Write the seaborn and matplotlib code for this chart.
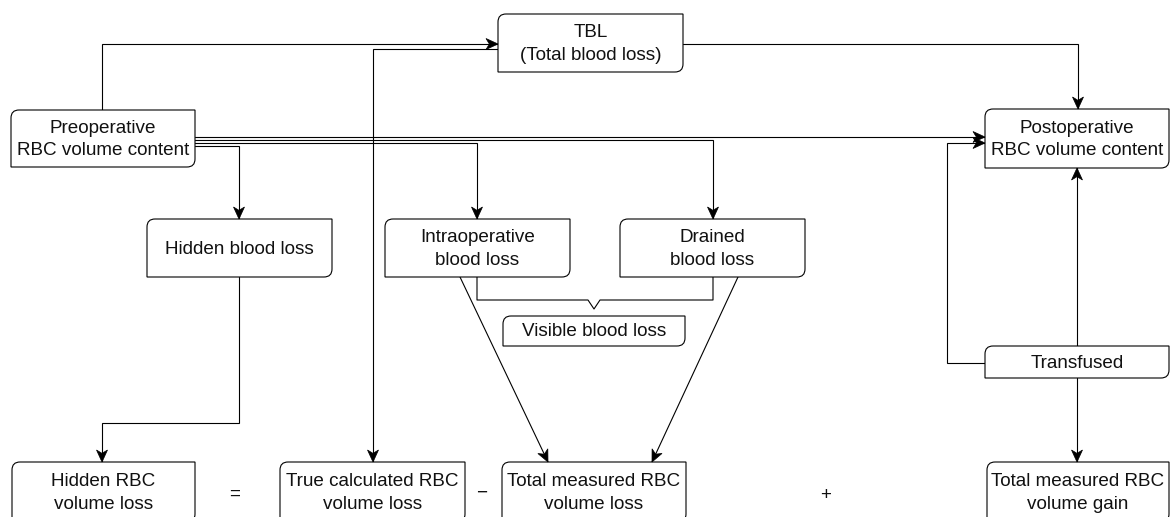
import matplotlib
matplotlib.use('Agg')
import matplotlib.pyplot as plt
import seaborn as sns
import numpy as np
from matplotlib.path import Path
from matplotlib.patches import PathPatch, Polygon

# node labels and their boxes (left, top, right, bottom) in pixel units
node_names = ['pre', 'tbl', 'post', 'hidden', 'intra', 'drained', 'visible',
              'transfused', 'hidden_rbc', 'true_calc', 'meas_loss', 'meas_gain']
node_labels = ['Preoperative\nRBC volume content', 'TBL\n(Total blood loss)',
               'Postoperative\nRBC volume content', 'Hidden blood loss',
               'Intraoperative\nblood loss', 'Drained\nblood loss',
               'Visible blood loss', 'Transfused',
               'Hidden RBC\nvolume loss', 'True calculated RBC\nvolume loss',
               'Total measured RBC\nvolume loss', 'Total measured RBC\nvolume gain']
node_boxes = [(11, 110, 195, 167), (498, 14, 683, 72), (985, 109, 1169, 168),
              (147, 219, 332, 277), (385, 219, 570, 277), (620, 219, 805, 277),
              (503, 316, 685, 346), (985, 346, 1169, 378),
              (12, 462, 195, 522), (280, 462, 465, 522),
              (502, 462, 686, 522), (987, 462, 1169, 522)]

# connectors as polylines, arrow at the last point
edges = [
    [(102, 110), (102, 44), (498, 44)],
    [(498, 49), (373, 49), (373, 462)],
    [(683, 44), (1078, 44), (1078, 109)],
    [(195, 137), (985, 137)],
    [(195, 140), (713, 140), (713, 219)],
    [(195, 143), (477, 143), (477, 219)],
    [(195, 146), (239, 146), (239, 219)],
    [(239, 277), (239, 423), (102, 423), (102, 462)],
    [(460, 277), (548, 462)],
    [(738, 277), (652, 462)],
    [(1077, 346), (1077, 168)],
    [(985, 363), (947, 363), (947, 143), (985, 143)],
    [(1077, 378), (1077, 462)],
]
brace = [(477, 277), (477, 300), (588, 300), (594, 309), (600, 300), (713, 300), (713, 277)]

operators = ['=', '\u2212', '+']
operator_pos = [(235, 494), (482, 493), (826, 495)]

sns.set_style('white')
plt.rcParams['font.family'] = ['Liberation Sans', 'DejaVu Sans']

fig = plt.figure(figsize=(11.7, 5.17), dpi=100)
ax = fig.add_axes([0, 0, 1, 1])
ax.set_xlim(0, 1170)
ax.set_ylim(517, 0)
ax.axis('off')

LW = 0.8
FS = 13.6


def node_path(l, t, r, b, rad=8):
    # rounded top-left and bottom-right corners only
    verts = [(l, t + rad), (l, t), (l + rad, t), (r, t), (r, b - rad),
             (r, b), (r - rad, b), (l, b), (l, t + rad)]
    codes = [Path.MOVETO, Path.CURVE3, Path.CURVE3, Path.LINETO, Path.LINETO,
             Path.CURVE3, Path.CURVE3, Path.LINETO, Path.CLOSEPOLY]
    return Path(verts, codes)


def arrow_head(p0, p1, length=12, width=5.5):
    d = np.array(p1, float) - np.array(p0, float)
    d /= np.linalg.norm(d)
    n = np.array([-d[1], d[0]])
    tip = np.array(p1, float)
    base = tip - d * length
    notch = tip - d * length * 0.72
    return [tip, base + n * width, notch, base - n * width]


for (l, t, r, b), label in zip(node_boxes, node_labels):
    ax.add_patch(PathPatch(node_path(l, t, r, b), facecolor='white',
                           edgecolor='black', lw=LW, zorder=3))
    ax.text((l + r) / 2, (t + b) / 2 + 1, label, ha='center', va='center',
            fontsize=FS, linespacing=1.45, color='#111111', zorder=4)

for pts in edges:
    xs, ys = zip(*pts)
    ax.plot(xs, ys, color='black', lw=LW, zorder=2, solid_joinstyle='miter')
    ax.add_patch(Polygon(arrow_head(pts[-2], pts[-1]), closed=True,
                         facecolor='black', edgecolor='black', lw=0.5, zorder=5))

bx, by = zip(*brace)
ax.plot(bx, by, color='black', lw=LW, zorder=2)

for sym, (x, y) in zip(operators, operator_pos):
    ax.text(x, y, sym, ha='center', va='center', fontsize=FS, color='#111111')

fig.savefig('out.png', dpi=100, facecolor='white')
